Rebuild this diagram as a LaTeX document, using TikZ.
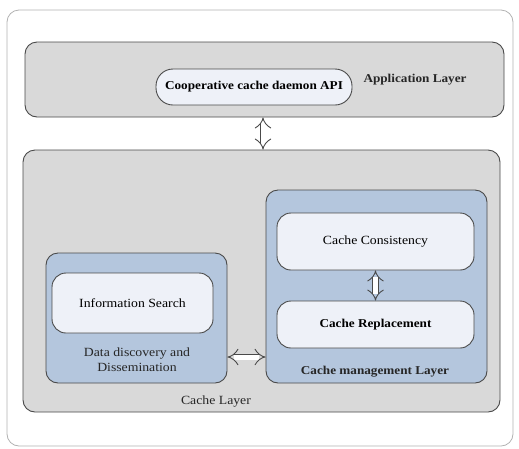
\documentclass[tikz,border=0pt]{standalone}
\usepackage{fontspec}
\setmainfont{Liberation Serif}[FakeStretch=1.1]
\usepackage{xcolor}
\usetikzlibrary{arrows.meta, positioning, calc}

\definecolor{layergray}{HTML}{D9D9D9}
\definecolor{groupblue}{HTML}{B4C6DD}
\definecolor{modulefill}{HTML}{EEF1F8}
\definecolor{edgegray}{HTML}{4A4A4A}

\begin{document}
\begin{tikzpicture}[
    x=1pt, y=-1pt,
    frame/.style={rectangle, rounded corners=12pt, draw=black!30, line width=0.8pt, fill=white, minimum width=506pt, minimum height=436pt},
    layer/.style={rectangle, rounded corners=12pt, draw=edgegray, line width=0.9pt, fill=layergray},
    group/.style={rectangle, rounded corners=12pt, draw=edgegray, line width=0.9pt, fill=groupblue},
    module/.style={rectangle, rounded corners=14pt, draw=edgegray, line width=0.9pt, fill=modulefill, font=\fontsize{12.5}{14}\selectfont},
    caption/.style={font=\fontsize{12.5}{15}\selectfont, text=black!85, align=center},
    heavy/.style={font=\fontsize{12}{14}\selectfont\bfseries},
    dblarrow/.style={{Implies}-{Implies}, double=white, double distance=5pt, draw=edgegray, line width=0.9pt},
]
\useasboundingbox (0,0) rectangle (519,448);
\node[frame] (outer) at (260,228) {};

% application layer
\node[layer, minimum width=479pt, minimum height=75pt] (applayer) at (264.5,79.5) {};
\node[module, heavy, rounded corners=17pt, minimum width=196pt, minimum height=36pt] (api) at (254,87) {Cooperative cache daemon API};
\node[caption, heavy, anchor=west] (applabel) at (360,80) {Application Layer};

% cache layer
\node[layer, minimum width=477pt, minimum height=262pt] (cachelayer) at (261.5,281) {};
\node[caption] (cachelabel) at (216,402) {Cache Layer};

% data discovery group
\node[group, minimum width=181pt, minimum height=130pt] (discovery) at (136.5,318) {};
\node[module, minimum width=161pt, minimum height=60pt] (infosearch) at (132.5,303) {Information Search};
\node[caption] (discoverylabel) at (137,359.5) {Data discovery and\\Dissemination};

% cache management group
\node[group, minimum width=221pt, minimum height=193pt] (management) at (376.5,286.5) {};
\node[module, minimum width=197pt, minimum height=57pt] (consistency) at (375.5,241.5) {Cache Consistency};
\node[module, heavy, minimum width=197pt, minimum height=47pt] (replacement) at (375.5,324.5) {Cache Replacement};
\node[caption, heavy] (managementlabel) at (375,372) {Cache management Layer};

\draw[dblarrow] (applayer.south -| 263,0) -- (cachelayer.north -| 263,0);
\draw[dblarrow] (consistency.south) -- (replacement.north);
\draw[dblarrow] (discovery.east |- 0,357) -- (management.west |- 0,357);
\end{tikzpicture}
\end{document}
